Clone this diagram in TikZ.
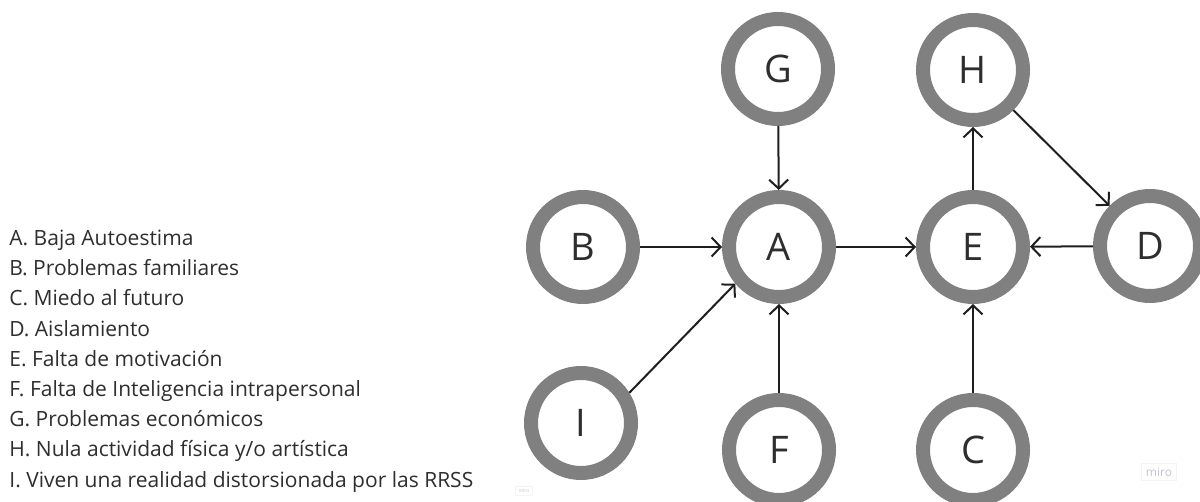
\documentclass[tikz,border=0pt]{standalone}
\usepackage{fontspec}
\setmainfont{Open Sans}
\usetikzlibrary{arrows.meta}
\definecolor{ringgray}{HTML}{808080}
\definecolor{txt}{HTML}{2E2E2E}
\definecolor{arr}{HTML}{1E1E1E}
\definecolor{wm}{HTML}{C4C4CE}
\definecolor{wmbox}{HTML}{F4F4F6}
\tikzset{
  cnode/.style={circle, draw=ringgray, line width=7pt, fill=white, minimum size=50pt, inner sep=0pt, text=txt, font=\fontsize{19}{19}\selectfont},
  link/.style={draw=arr, line width=1pt, -{Straight Barb[length=4.5pt,width=9.5pt]}},
  legend/.style={anchor=base west, text=txt, font=\fontsize{10.5}{12}\selectfont, inner sep=0pt},
  watermark/.style={text=wm, draw=wmbox, line width=0.5pt, font=\fontsize{6}{6}\selectfont, inner sep=2pt}
}
\begin{document}
\begin{tikzpicture}[x=0.5pt, y=-0.5pt]
\useasboundingbox (0,0) rectangle (1200,502);
\fill[white] (0,0) rectangle (1200,502);
% legend
\node[legend] (l1) at (9,246) {A. Baja Autoestima};
\node[legend] (l2) at (9,276) {B. Problemas familiares};
\node[legend] (l3) at (9,306) {C. Miedo al futuro};
\node[legend] (l4) at (9,336) {D. Aislamiento};
\node[legend] (l5) at (9,366) {E. Falta de motivación};
\node[legend] (l6) at (9,396) {F. Falta de Inteligencia intrapersonal};
\node[legend] (l7) at (9,426) {G. Problemas económicos};
\node[legend] (l8) at (9,456) {H. Nula actividad física y/o artística};
\node[legend] (l9) at (9,487) {I. Viven una realidad distorsionada por las RRSS};
% nodes
\node[cnode] (G) at (778,69) {G};
\node[cnode] (H) at (973,70) {H};
\node[cnode] (B) at (583,247) {B};
\node[cnode] (A) at (779,247) {A};
\node[cnode] (E) at (973,247) {E};
\node[cnode] (D) at (1150,246) {D};
\node[cnode] (I) at (581,423) {I};
\node[cnode] (F) at (779,450) {F};
\node[cnode] (C) at (973,450) {C};
% connectors
\draw[link] (G) -- (A);
\draw[link] (B) -- (A);
\draw[link] (I.32) -- (A.220);
\draw[link] (F) -- (A);
\draw[link] (A) -- (E);
\draw[link] (D) -- (E);
\draw[link] (C) -- (E);
\draw[link] (E) -- (H);
\draw[link] (H) -- (D);
% watermarks
\node[watermark] (w1) at (1159,472) {miro};
\node[watermark, font=\fontsize{2.5}{2.5}\selectfont, inner sep=1.5pt] (w2) at (524,491) {miro};
\end{tikzpicture}
\end{document}
